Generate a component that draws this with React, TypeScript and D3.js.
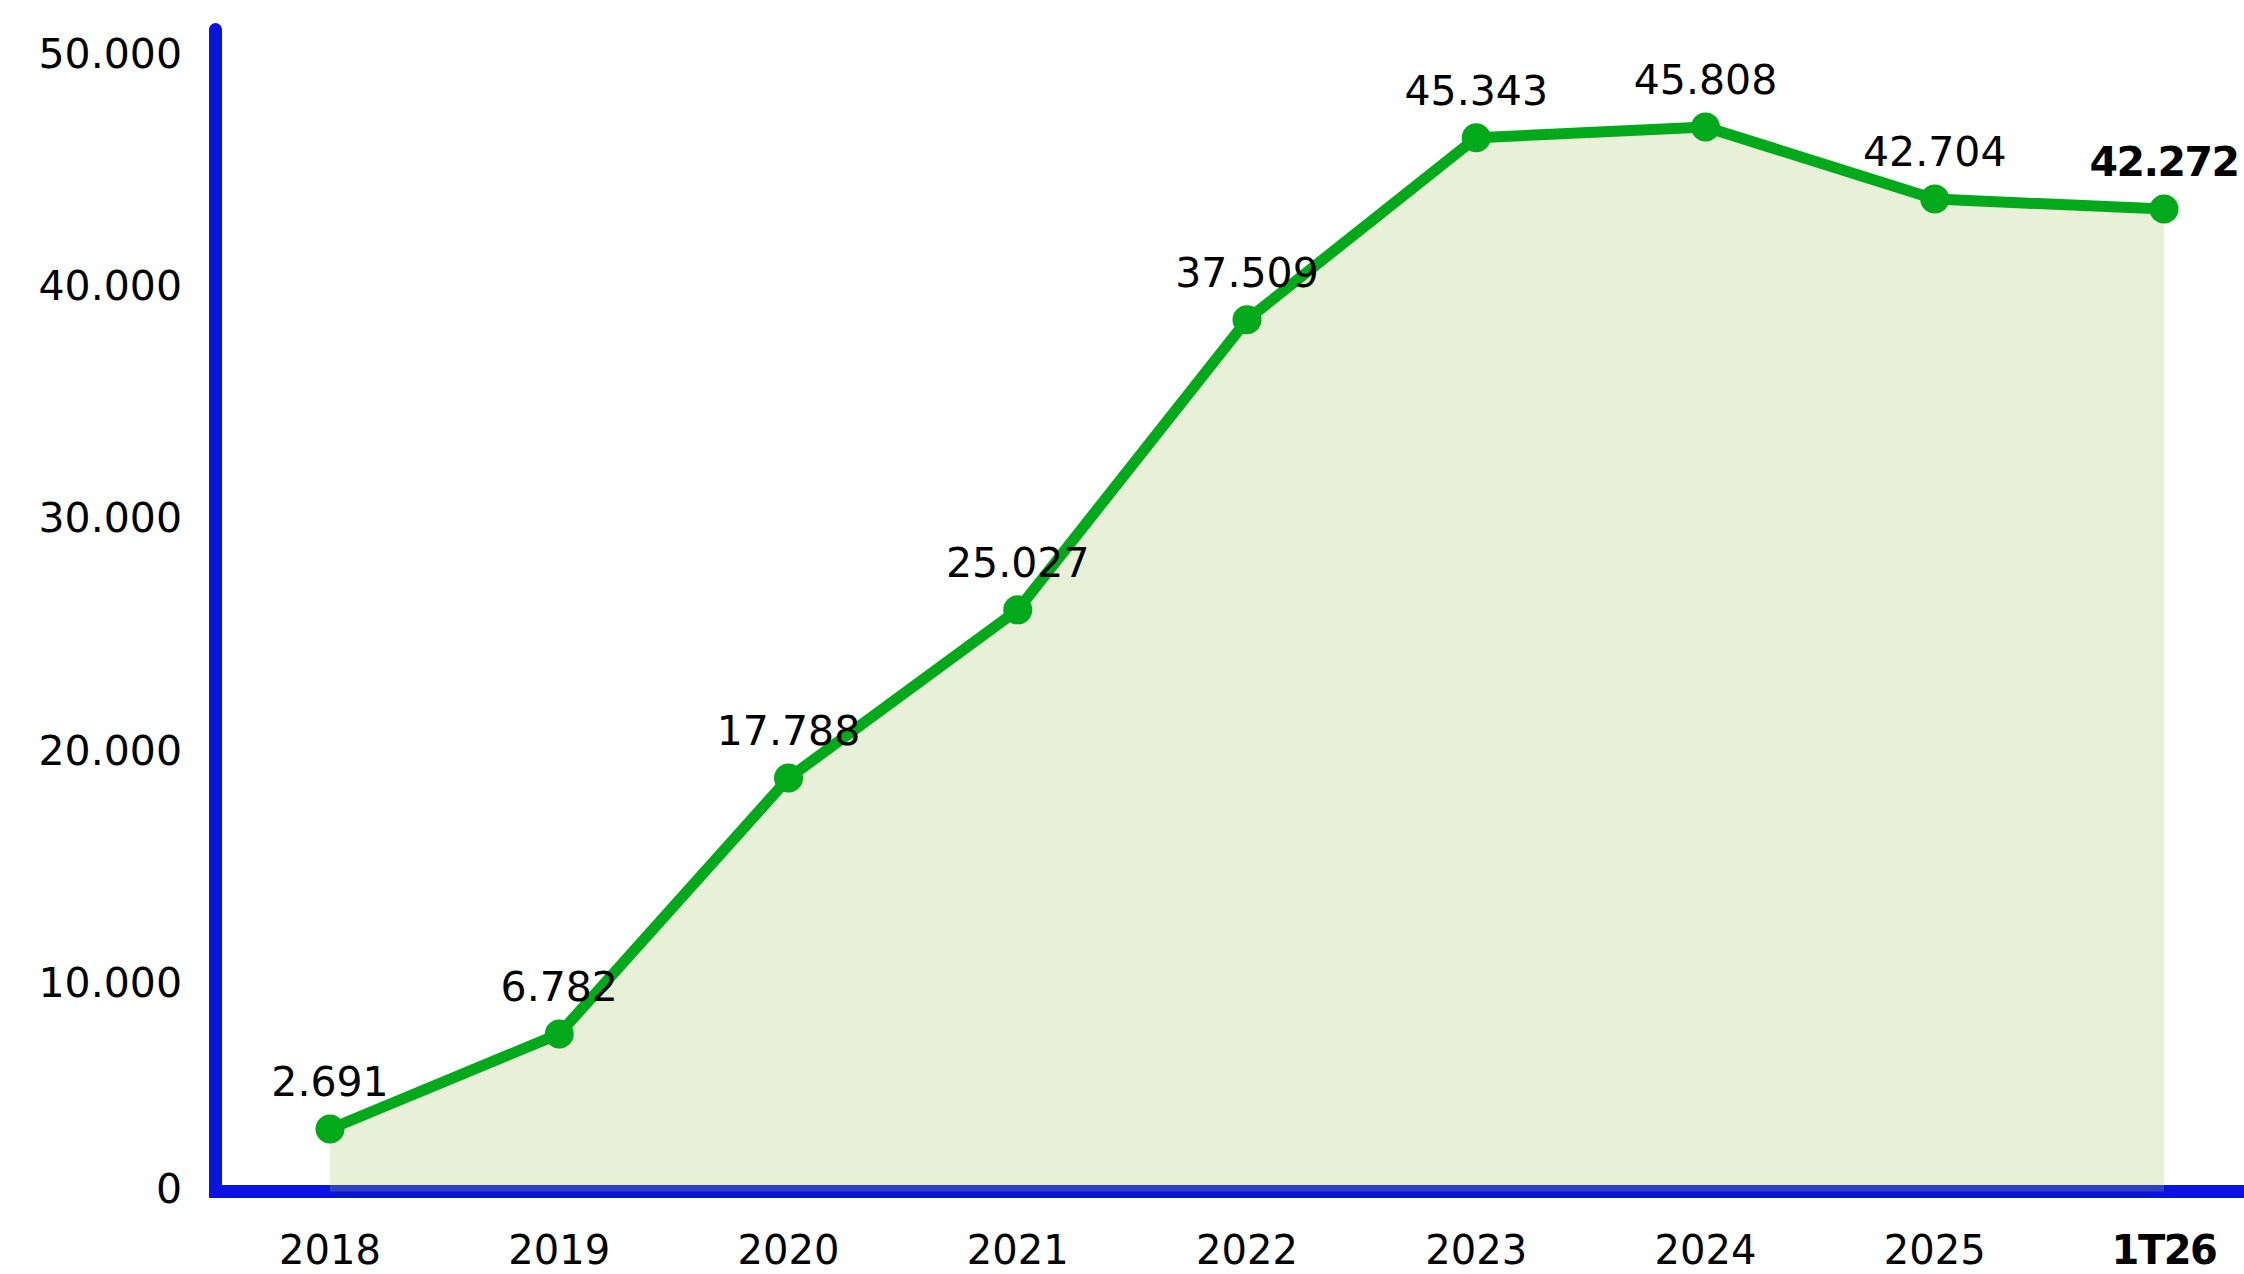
import React from "react";
import * as d3 from "d3";

const categories = ["2018", "2019", "2020", "2021", "2022", "2023", "2024", "2025", "1T26"];
const values = [2691, 6782, 17788, 25027, 37509, 45343, 45808, 42704, 42272];
const highlighted = [false, false, false, false, false, false, false, false, true];
const yTicks = [0, 10000, 20000, 30000, 40000, 50000];

const W = 2244;
const H = 1274;
const FONT = "'DejaVu Sans', sans-serif";
const BLUE = "#0a14dc";
const GREEN = "#02a91b";
const AREA = "rgb(163,195,99)";

const fmt = (v: number) => d3.format(",")(v).replace(/,/g, ".");

export default function App() {
  const x = d3.scalePoint<string>().domain(categories).range([330, 2164]);
  const y = d3.scaleLinear().domain([0, 50000]).range([1191.5, 29.5]);
  const axisX = 215.5;

  const pts = values.map((v, i) => ({ c: categories[i], v, i }));
  const line = d3
    .line<{ c: string; v: number }>()
    .x((d) => x(d.c)!)
    .y((d) => y(d.v));
  const area = d3
    .area<{ c: string; v: number }>()
    .x((d) => x(d.c)!)
    .y0(y(0))
    .y1((d) => y(d.v));

  const axisPath = `M${axisX},${y(50000)} L${axisX},${y(0)} L${W + 20},${y(0)}`;

  return (
    <svg
      width={W}
      height={H}
      style={{ position: "absolute", left: 0, top: 0, background: "#fff" }}
      fontFamily={FONT}
    >
      <path
        d={axisPath}
        fill="none"
        stroke={BLUE}
        strokeWidth={13}
        strokeLinecap="round"
        strokeLinejoin="miter"
      />
      <path d={area(pts)!} fill={AREA} fillOpacity={0.25} />
      <path
        d={line(pts)!}
        fill="none"
        stroke={GREEN}
        strokeWidth={11}
        strokeLinejoin="round"
      />
      {pts.map((d) => (
        <circle key={d.c} cx={x(d.c)} cy={y(d.v)} r={14.5} fill={GREEN} />
      ))}
      {pts.map((d) => (
        <text
          key={"l" + d.c}
          x={x(d.c)}
          y={y(d.v) - 33}
          textAnchor="middle"
          fontSize={41}
          fontWeight={highlighted[d.i] ? "bold" : "normal"}
          letterSpacing={highlighted[d.i] ? -1.5 : 0}
          fill="#000"
        >
          {fmt(d.v)}
        </text>
      ))}
      {yTicks.map((t) => (
        <text
          key={"y" + t}
          x={182}
          y={y(t) + (t === 0 ? 11 : 38)}
          textAnchor="end"
          fontSize={41}
          fill="#000"
        >
          {fmt(t)}
        </text>
      ))}
      {pts.map((d) => (
        <text
          key={"x" + d.c}
          x={x(d.c)}
          y={1264}
          textAnchor="middle"
          fontSize={40}
          fontWeight={highlighted[d.i] ? "bold" : "normal"}
          letterSpacing={highlighted[d.i] ? -1.5 : 0}
          fill="#000"
        >
          {d.c}
        </text>
      ))}
    </svg>
  );
}
